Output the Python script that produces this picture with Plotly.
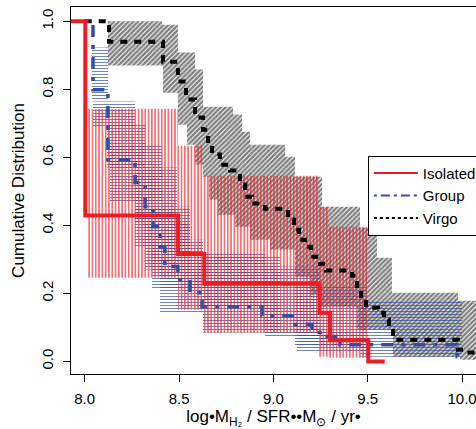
import plotly.graph_objects as go

# ---------------- data ----------------
# Step curves: level y[i] holds from x[i] to x[i+1]
iso_x = [7.90, 8.003, 8.495, 8.634, 9.245, 9.300, 9.503, 9.590]
iso_y = [1.0, 0.429, 0.316, 0.228, 0.143, 0.0625, 0.0, 0.0]

grp_x = [8.00, 8.044, 8.123, 8.267, 8.320, 8.362, 8.399, 8.425, 8.494, 8.558,
         8.622, 8.940, 9.115, 9.205, 9.247, 9.353, 9.974, 10.005]
grp_y = [1.0, 0.799, 0.593, 0.526, 0.455, 0.396, 0.337, 0.279, 0.240, 0.202,
         0.161, 0.134, 0.109, 0.085, 0.073, 0.049, 0.014, 0.014]

vir_x = [8.00, 8.129, 8.415, 8.494, 8.537, 8.585, 8.627, 8.654, 8.675, 8.717,
         8.770, 8.823, 8.850, 8.887, 8.955, 9.077, 9.109, 9.136, 9.167, 9.199,
         9.247, 9.279, 9.417, 9.443, 9.464, 9.491, 9.554, 9.586, 9.612, 9.634,
         9.978, 10.015, 10.10]
vir_y = [1.0, 0.940, 0.881, 0.823, 0.770, 0.717, 0.681, 0.637, 0.608, 0.578,
         0.561, 0.520, 0.484, 0.464, 0.449, 0.417, 0.387, 0.358, 0.337, 0.308,
         0.287, 0.267, 0.252, 0.211, 0.181, 0.158, 0.143, 0.123, 0.099, 0.064,
         0.034, 0.026, 0.026]

# Virgo confidence band: upper and lower step envelopes
vir_hi_x = [8.123, 8.410, 8.494, 8.585, 8.627, 8.786, 8.834, 8.876, 9.062, 9.114,
            9.258, 9.459, 9.549, 9.628, 9.978, 10.10]
vir_hi = [1.0, 0.990, 0.908, 0.858, 0.749, 0.726, 0.675, 0.637, 0.602, 0.543,
          0.455, 0.393, 0.305, 0.202, 0.178]
vir_lo_x = [8.123, 8.415, 8.494, 8.542, 8.585, 8.627, 8.659, 8.706, 8.797, 8.876,
            8.982, 9.114, 9.194, 9.247, 9.443, 9.634, 9.989, 10.10]
vir_lo = [0.870, 0.790, 0.696, 0.637, 0.579, 0.543, 0.476, 0.431, 0.396, 0.358,
          0.329, 0.249, 0.196, 0.161, 0.093, 0.014, 0.005]

# Group confidence boxes
grp_bx0 = [8.039, 8.044, 8.118, 8.134, 8.267, 8.267, 8.320, 8.357, 8.399, 8.627, 8.627, 8.956, 9.114, 9.125, 9.459]
grp_bx1 = [8.124, 8.267, 8.320, 8.410, 8.489, 8.558, 8.558, 8.627, 8.627, 8.956, 9.035, 9.247, 9.496, 9.502, 9.999]
grp_blo = [0.770, 0.688, 0.570, 0.470, 0.408, 0.337, 0.270, 0.211, 0.143, 0.161, 0.085, 0.070, 0.043, 0.026, 0.014]
grp_bhi = [0.923, 0.764, 0.696, 0.637, 0.570, 0.455, 0.408, 0.358, 0.299, 0.320, 0.308, 0.279, 0.220, 0.085, 0.175]

# Isolated confidence boxes
iso_bx0 = [8.013, 8.495, 8.627, 9.237, 9.290]
iso_bx1 = [8.495, 8.627, 9.237, 9.290, 9.496]
iso_blo = [0.246, 0.152, 0.084, 0.014, 0.011]
iso_bhi = [0.743, 0.634, 0.546, 0.455, 0.396]

x_ticks = [8.0, 8.5, 9.0, 9.5, 10.0]
x_ticktext = ["8.0", "8.5", "9.0", "9.5", "10.0"]
y_ticks = [0.0, 0.2, 0.4, 0.6, 0.8, 1.0]
y_ticktext = ["0.0", "0.2", "0.4", "0.6", "0.8", "1.0"]

RED = "rgb(236,28,36)"
BLUE = "rgb(48,78,165)"
FONT = "Liberation Sans, Arial, Helvetica, sans-serif"

fig = go.Figure()

# Virgo band polygon
px_, py_ = [], []
for i in range(len(vir_hi)):
    px_ += [vir_hi_x[i], vir_hi_x[i + 1]]
    py_ += [vir_hi[i], vir_hi[i]]
for i in reversed(range(len(vir_lo))):
    px_ += [vir_lo_x[i + 1], vir_lo_x[i]]
    py_ += [vir_lo[i], vir_lo[i]]
px_.append(px_[0]); py_.append(py_[0])
fig.add_trace(go.Scatter(
    x=px_, y=py_, mode="lines", fill="toself", line=dict(width=0),
    fillcolor="rgba(0,0,0,0)", showlegend=False, hoverinfo="skip",
    fillpattern=dict(shape="/", fgcolor="black", bgcolor="rgba(0,0,0,0)",
                     size=3.4, solidity=0.7)))

def boxes(x0s, x1s, los, his, shape, color, size, opacity, solidity):
    for x0, x1, lo, hi in zip(x0s, x1s, los, his):
        fig.add_trace(go.Scatter(
            x=[x0, x1, x1, x0, x0], y=[lo, lo, hi, hi, lo], mode="lines",
            fill="toself", line=dict(width=0), fillcolor="rgba(0,0,0,0)",
            showlegend=False, hoverinfo="skip",
            fillpattern=dict(shape=shape, fgcolor=color, fgopacity=opacity,
                             bgcolor="rgba(0,0,0,0)", size=size, solidity=solidity)))

boxes(grp_bx0, grp_bx1, grp_blo, grp_bhi, "-", BLUE, 3, 0.7, 0.35)
boxes(iso_bx0, iso_bx1, iso_blo, iso_bhi, "|", RED, 3.3, 0.8, 0.4)

# Curves
VIR_DASH = "7px,7px"
GRP_DASH = "4px,8px,12px,8px"
fig.add_trace(go.Scatter(x=vir_x, y=vir_y, mode="lines", name="Virgo", showlegend=False,
                         line=dict(color="black", width=4, shape="hv", dash=VIR_DASH)))
fig.add_trace(go.Scatter(x=grp_x, y=grp_y, mode="lines", name="Group", showlegend=False,
                         line=dict(color=BLUE, width=3.5, shape="hv", dash=GRP_DASH)))
fig.add_trace(go.Scatter(x=iso_x, y=iso_y, mode="lines", name="Isolated", showlegend=False,
                         line=dict(color=RED, width=4, shape="hv")))

# Legend entries (thinner sample lines, as in the reference key)
for name, col, dash, rank in [("Isolated", RED, "solid", 1),
                              ("Group", BLUE, "3px,4px,9px,4px", 2),
                              ("Virgo", "black", "3px,3px", 3)]:
    fig.add_trace(go.Scatter(x=[None], y=[None], mode="lines", name=name,
                             line=dict(color=col, width=2, dash=dash), legendrank=rank))

fig.update_layout(
    width=476, height=429,
    margin=dict(l=71, r=0, t=7, b=55, autoexpand=False),
    paper_bgcolor="white", plot_bgcolor="white",
    font=dict(family=FONT, size=15, color="black"),
    showlegend=True,
    legend=dict(x=0.733, y=0.595, xanchor="left", yanchor="top",
                bgcolor="white", bordercolor="black", borderwidth=1,
                font=dict(size=15), itemwidth=44, tracegroupgap=0),
    xaxis=dict(range=[7.9274, 10.0737], tickvals=x_ticks, ticktext=x_ticktext,
               ticks="outside", ticklen=7, tickcolor="black", showline=True,
               linecolor="black", linewidth=1, mirror=True, showgrid=False,
               zeroline=False, ticklabelstandoff=4, ticklabeloverflow="allow",
               title=dict(text="log•M<sub>H₂</sub> / SFR••M<sub>⊙</sub> / yr•",
                          font=dict(size=17), standoff=14)),
    yaxis=dict(range=[-0.037, 1.042], tickvals=y_ticks, ticktext=y_ticktext,
               tickangle=-90, ticks="outside", ticklen=7, tickcolor="black",
               showline=True, linecolor="black", linewidth=1, mirror=False,
               showgrid=False, zeroline=False, ticklabelstandoff=4,
               title=dict(text="Cumulative Distribution", font=dict(size=17), standoff=10)),
)

fig.write_html("out.html", config={"displayModeBar": False},
               post_script="document.body.style.margin='0';document.body.style.overflow='hidden';")
